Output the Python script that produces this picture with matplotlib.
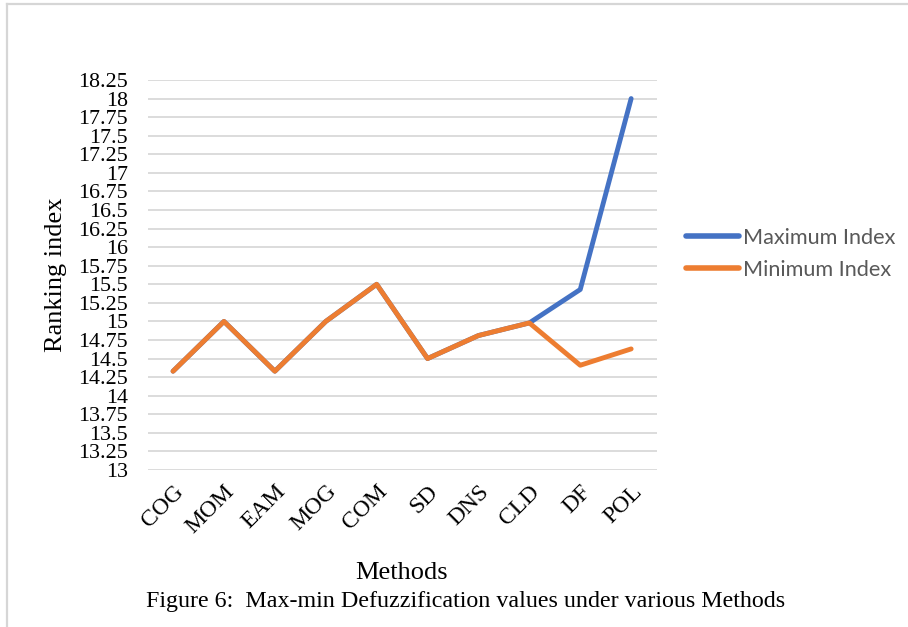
import numpy as np
import matplotlib.pyplot as plt
from matplotlib.lines import Line2D

methods = ["COG", "MOM", "EAM", "MOG", "COM", "SD", "DNS", "CLD", "DF", "POL"]
max_index = [14.33, 15.0, 14.33, 15.0, 15.5, 14.5, 14.81, 14.98, 15.43, 18.0]
min_index = [14.33, 15.0, 14.33, 15.0, 15.5, 14.5, 14.81, 14.98, 14.41, 14.63]
y_ticks = np.arange(13, 18.26, 0.25)
y_tick_labels = ["%g" % t for t in y_ticks]

W, H = 908, 627
fig = plt.figure(figsize=(W / 100, H / 100), dpi=100)
ax = fig.add_axes([147.6 / W, 1 - 470 / H, 509 / W, 390 / H])

x = np.arange(len(methods))
ax.plot(x, max_index, color="#4472C4", lw=3.5, solid_capstyle="round",
        solid_joinstyle="round", label="Maximum Index", zorder=3)
ax.plot(x, min_index, color="#ED7D31", lw=3.5, solid_capstyle="round",
        solid_joinstyle="round", label="Minimum Index", zorder=4)

ax.set_xlim(-0.5, len(methods) - 0.5)
ax.set_ylim(13, 18.25)
ax.set_yticks(y_ticks)
ax.set_yticklabels(y_tick_labels, family="Liberation Serif", fontsize=15.8)
ax.set_xticks(x)
ax.set_xticklabels(methods, family="Liberation Serif", fontsize=17,
                   rotation=45, ha="right", rotation_mode="anchor")
ax.tick_params(axis="both", length=0)
ax.tick_params(axis="y", pad=14)
ax.tick_params(axis="x", pad=8)
ax.grid(axis="y", color="#d9d9d9", lw=1.3)
ax.set_axisbelow(True)
for s in ax.spines.values():
    s.set_visible(False)

ax.set_ylabel("Ranking index", family="Liberation Serif", fontsize=19, labelpad=8)

leg = fig.legend(handles=ax.get_lines(), loc="center left",
                 bbox_to_anchor=(666 / W, 1 - 254 / H), frameon=False,
                 prop={"family": "Lato", "size": 15.6}, handlelength=2.45,
                 handletextpad=0.2, labelspacing=0.55)
for t in leg.get_texts():
    t.set_color("#595959")
for ln in leg.get_lines():
    ln.set_linewidth(4)

fig.text(402 / W, 1 - 573 / H, "Methods", family="Liberation Serif",
         fontsize=19, ha="center", va="center")
fig.text(466 / W, 1 - 601 / H,
         "Figure 6:  Max-min Defuzzification values under various Methods",
         family="Liberation Serif", fontsize=17.3, ha="center", va="center")

# outer frame (top and left edges)
fig.add_artist(Line2D([7 / W, 1], [1 - 3.5 / H, 1 - 3.5 / H], color="#d6d6d6", lw=1.6))
fig.add_artist(Line2D([7 / W, 7 / W], [0, 1 - 3.5 / H], color="#d6d6d6", lw=1.6))

fig.savefig("out.png", dpi=100)
